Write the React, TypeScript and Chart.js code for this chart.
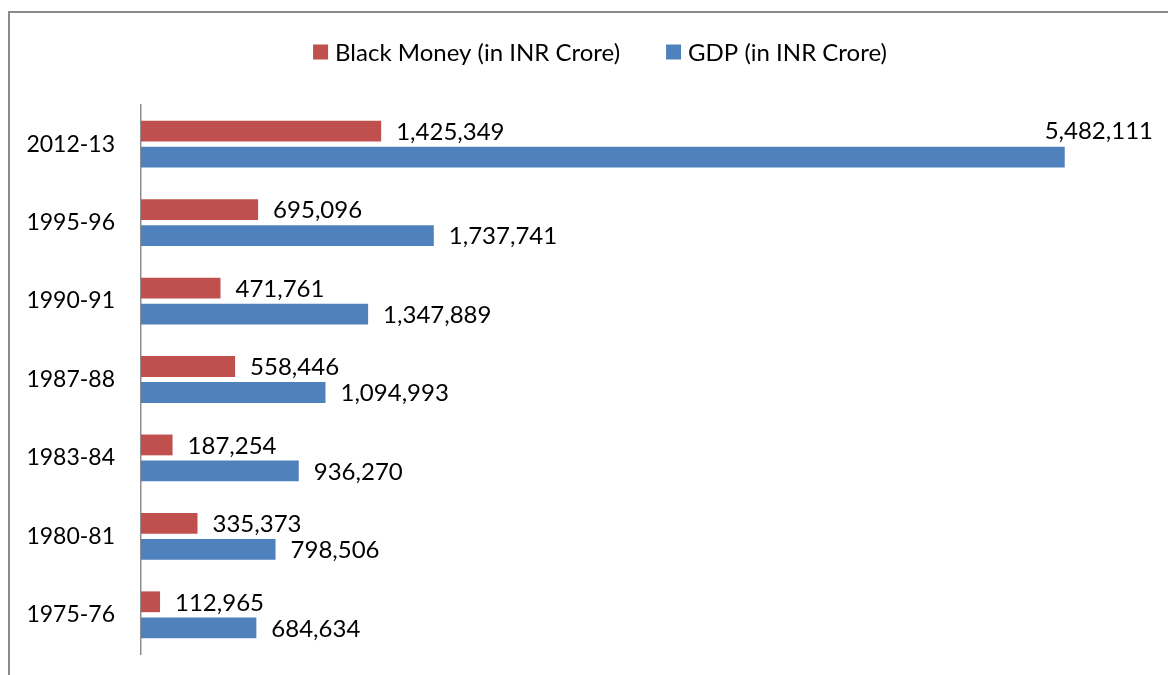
import React, { useEffect, useRef } from "react";
import { Chart, registerables } from "chart.js";

Chart.register(...registerables);

const categories = ["2012-13", "1995-96", "1990-91", "1987-88", "1983-84", "1980-81", "1975-76"];
const blackMoney = [1425349, 695096, 471761, 558446, 187254, 335373, 112965];
const gdp = [5482111, 1737741, 1347889, 1094993, 936270, 798506, 684634];
const seriesNames = ["Black Money (in INR Crore)", "GDP (in INR Crore)"];
const seriesColors = ["#C0504D", "#4F81BD"];
const xMax = 6000000;

const FONT = "Lato, 'Open Sans', sans-serif";
const TICK_SIZE = 23;
const LABEL_SIZE = 24;
const LEGEND_SIZE = 24;

const framePlugin = {
  id: "frame",
  beforeDraw(chart: any) {
    const ctx = chart.ctx;
    ctx.save();
    ctx.strokeStyle = "#8a8a8a";
    ctx.lineWidth = 2;
    ctx.beginPath();
    ctx.moveTo(9, chart.height + 5);
    ctx.lineTo(9, 12);
    ctx.lineTo(chart.width + 5, 12);
    ctx.stroke();
    ctx.restore();
  },
};

const legendPlugin = {
  id: "customLegend",
  afterDraw(chart: any) {
    const ctx = chart.ctx;
    ctx.save();
    ctx.font = `${LEGEND_SIZE}px ${FONT}`;
    const box = 15;
    const gap = 7;
    const itemGap = 46;
    const ds = chart.data.datasets;
    const widths = ds.map((d: any) => box + gap + ctx.measureText(d.label).width);
    const total = widths.reduce((a: number, b: number) => a + b, 0) + itemGap * (ds.length - 1);
    const cx = 600;
    const cy = 52;
    let x = cx - total / 2;
    ds.forEach((d: any, i: number) => {
      ctx.fillStyle = d.backgroundColor;
      ctx.fillRect(x, cy - box / 2, box, box);
      ctx.fillStyle = "#000";
      ctx.textBaseline = "middle";
      ctx.textAlign = "left";
      ctx.fillText(d.label, x + box + gap, cy + 1);
      x += widths[i] + itemGap;
    });
    ctx.restore();
  },
};

const labelPlugin = {
  id: "barLabels",
  afterDatasetsDraw(chart: any) {
    const ctx = chart.ctx;
    const area = chart.chartArea;
    ctx.save();
    ctx.font = `${LABEL_SIZE}px ${FONT}`;
    ctx.fillStyle = "#000";
    ctx.textBaseline = "middle";
    chart.data.datasets.forEach((d: any, di: number) => {
      const meta = chart.getDatasetMeta(di);
      meta.data.forEach((bar: any, i: number) => {
        const txt = Number(d.data[i]).toLocaleString("en-US");
        const w = ctx.measureText(txt).width;
        const x = bar.x + 15;
        if (x + w > area.right + 2) {
          ctx.textAlign = "right";
          ctx.fillText(txt, area.right + 1, bar.y - bar.height - 5);
        } else {
          ctx.textAlign = "left";
          ctx.fillText(txt, x, bar.y + 1);
        }
      });
    });
    ctx.restore();
  },
};

export default function App() {
  const ref = useRef<HTMLCanvasElement>(null);
  useEffect(() => {
    if (!ref.current) return;
    const chart = new Chart(ref.current, {
      type: "bar",
      data: {
        labels: categories,
        datasets: [
          {
            label: seriesNames[0],
            data: blackMoney,
            backgroundColor: seriesColors[0],
            categoryPercentage: 0.663,
            barPercentage: 0.8,
          },
          {
            label: seriesNames[1],
            data: gdp,
            backgroundColor: seriesColors[1],
            categoryPercentage: 0.663,
            barPercentage: 0.8,
          },
        ],
      },
      options: {
        indexAxis: "y",
        responsive: false,
        animation: false,
        layout: { padding: { top: 105, bottom: 21, right: 16, left: 0 } },
        plugins: {
          legend: { display: false },
          tooltip: { enabled: false },
          title: { display: false },
        },
        scales: {
          x: {
            display: false,
            min: 0,
            max: xMax,
          },
          y: {
            grid: { display: false, drawTicks: false },
            border: { display: true, color: "#8e8e8e", width: 1.5 },
            ticks: {
              color: "#000",
              padding: 26,
              font: { family: FONT, size: TICK_SIZE },
            },
            afterFit(scale: any) {
              scale.width = 141;
              scale.paddingTop = 0;
              scale.paddingBottom = 0;
            },
          },
        },
      },
      plugins: [framePlugin, legendPlugin, labelPlugin],
    });
    return () => chart.destroy();
  }, []);
  return (
    <div style={{ position: "fixed", left: 0, top: 0, width: 1168, height: 675, overflow: "hidden", background: "#fff" }}>
      <canvas ref={ref} width={1168} height={675} style={{ display: "block" }} />
    </div>
  );
}
